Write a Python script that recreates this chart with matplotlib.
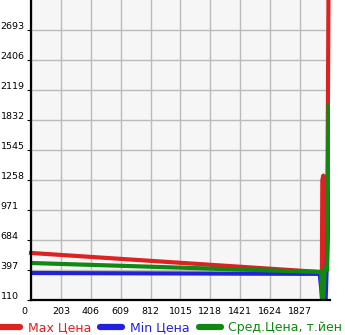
import numpy as np
import matplotlib.pyplot as plt
from matplotlib.transforms import ScaledTranslation

# пробег (x) и цены (y)
x_max = [0, 1960, 1975, 1978, 1985, 1990, 2010, 2020]
y_max = [560, 378, 380, 1258, 1300, 420, 400, 3100]

x_min = [0, 1960, 1980, 2000, 2025]
y_min = [368, 360, 90, 100, 1160]

x_avg = [0, 1960, 1970, 1975, 1985, 1995, 2010, 2020]
y_avg = [464, 378, 380, 100, 110, 420, 400, 1975]

xticks = [0, 203, 406, 609, 812, 1015, 1218, 1421, 1624, 1827]
yticks = [110, 397, 684, 971, 1258, 1545, 1832, 2119, 2406, 2693]

labels = ['Max Цена', 'Min Цена', 'Сред.Цена, т.йен']
colors = ['#dd2222', '#2222dd', '#118811']

fig = plt.figure(figsize=(3.45, 3.35), dpi=100)
ax = fig.add_axes([31/345, 1 - 300/335, 299/345, 300/335])
ax.set_facecolor('#f6f6f6')

lw = 3.0
ax.plot(x_max, y_max, color=colors[0], lw=lw, label=labels[0], clip_on=False)
ax.plot(x_min, y_min, color=colors[1], lw=lw, label=labels[1])
ax.plot(x_avg, y_avg, color=colors[2], lw=lw, label=labels[2])

ax.set_xlim(0, 2030)
ax.set_ylim(110, 2980)
ax.set_xticks(xticks)
ax.set_yticks(yticks)
ax.grid(True, color='#bbbbbb', lw=1)
ax.set_axisbelow(True)

for s in ['top', 'right']:
    ax.spines[s].set_visible(False)
for s in ['left', 'bottom']:
    ax.spines[s].set_linewidth(1.6)
    ax.spines[s].set_color('black')

ax.tick_params(axis='x', labelsize=6.8, length=0, pad=5)
ax.tick_params(axis='y', labelsize=6.8, length=3, width=0.8, pad=19)
for t in ax.get_yticklabels():
    t.set_horizontalalignment('left')
    t.set_verticalalignment('baseline')
    t.set_transform(t.get_transform() + ScaledTranslation(0, 1/100, fig.dpi_scale_trans))
# "0" сдвинут левее оси, как на оригинале
xl = ax.get_xticklabels()[0]
xl.set_transform(xl.get_transform() + ScaledTranslation(-7/100, 0, fig.dpi_scale_trans))

leg = fig.legend(loc='center left', bbox_to_anchor=(-0.005, 7/335), ncol=3, frameon=False,
                 fontsize=9, handlelength=1.75, handletextpad=0.6, columnspacing=0.75,
                 borderaxespad=0, borderpad=0)
for h in leg.get_lines():
    h.set_linewidth(4.5)
    h.set_solid_capstyle('round')
for t, c in zip(leg.get_texts(), colors):
    t.set_color(c)

fig.savefig('out.png', dpi=100)
